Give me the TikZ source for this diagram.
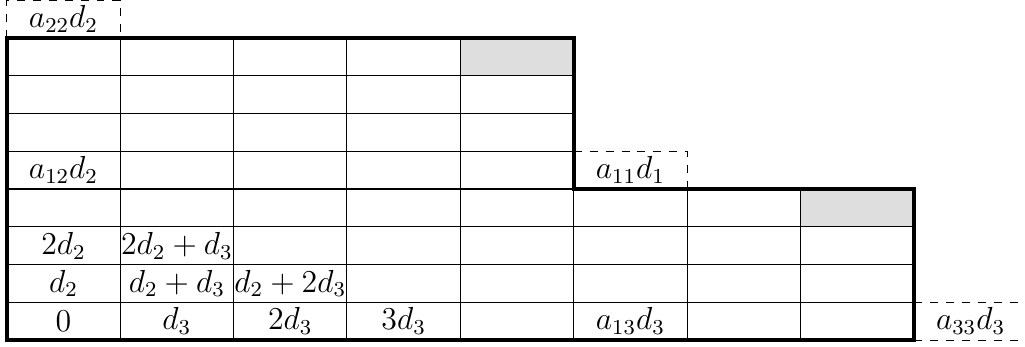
\documentclass[tikz,border=0pt]{standalone}
\usepackage{amsmath}
\usepackage{tikz}
\tikzset{cellgrid/.style={thin, black}, outline/.style={line width=1.4pt}, ghost/.style={dashed}}
\begin{document}
\begin{tikzpicture}[>=latex, every node/.style={font=\large}]

  \begin{scope}
  \useasboundingbox (-0.09,-0.09) rectangle (13.47,4.5);

  % grey cells
  \fill[black!13] (6,3.5) rectangle (7.5,4);
  \fill[black!13] (10.5,1.5) rectangle (12,2);

  % cells
  \draw[cellgrid] (0,0) grid[xstep=1.5,ystep=0.5] (7.5,4);
  \draw[cellgrid] (7.5,0) grid[xstep=1.5,ystep=0.5] (12,2);

  % staircase border
  \draw[outline] (0,0) -- (0,4) -- (7.5,4) -- (7.5,2) -- (12,2) -- (12,0) -- cycle;

  % dashed cells outside
  \draw[ghost] (0,4) -- (0,4.5) -- (1.5,4.5) -- (1.5,4);
  \draw[ghost] (7.5,2.5) -- (9,2.5) -- (9,2);
  \draw[ghost] (12,0.5) -- (13.5,0.5);
  \draw[ghost] (12,0) -- (13.5,0);

      \node (e22) at (0.75,4.25) {$a_{22}d_2$};
      \node (e11) at (8.25,2.25) {$a_{11}d_1$};
      \node (e33) at (12.75,0.25) {$a_{33}d_3$};

      \node (e12) at (0.75,2.25) {$a_{12}d_2$};
      \node (e13) at (8.25,0.25) {$a_{13}d_3$};

      \node (v20) at (0.75,1.25) {$2d_2$};
      \node (v21) at (2.25,1.25) {$2d_2+d_3$};

      \node (v10) at (0.75,0.75) {$d_2$};
      \node (v11) at (2.25,0.75) {$d_2+d_3$};
      \node (v12) at (3.75,0.75) {$d_2+2d_3$};

      \node (v00) at (0.75,0.25) {$0$};
      \node (v01) at (2.25,0.25) {$d_3$};
      \node (v02) at (3.75,0.25) {$2d_3$};
      \node (v03) at (5.25,0.25) {$3d_3$};

  \end{scope}
\end{tikzpicture}
\end{document}
